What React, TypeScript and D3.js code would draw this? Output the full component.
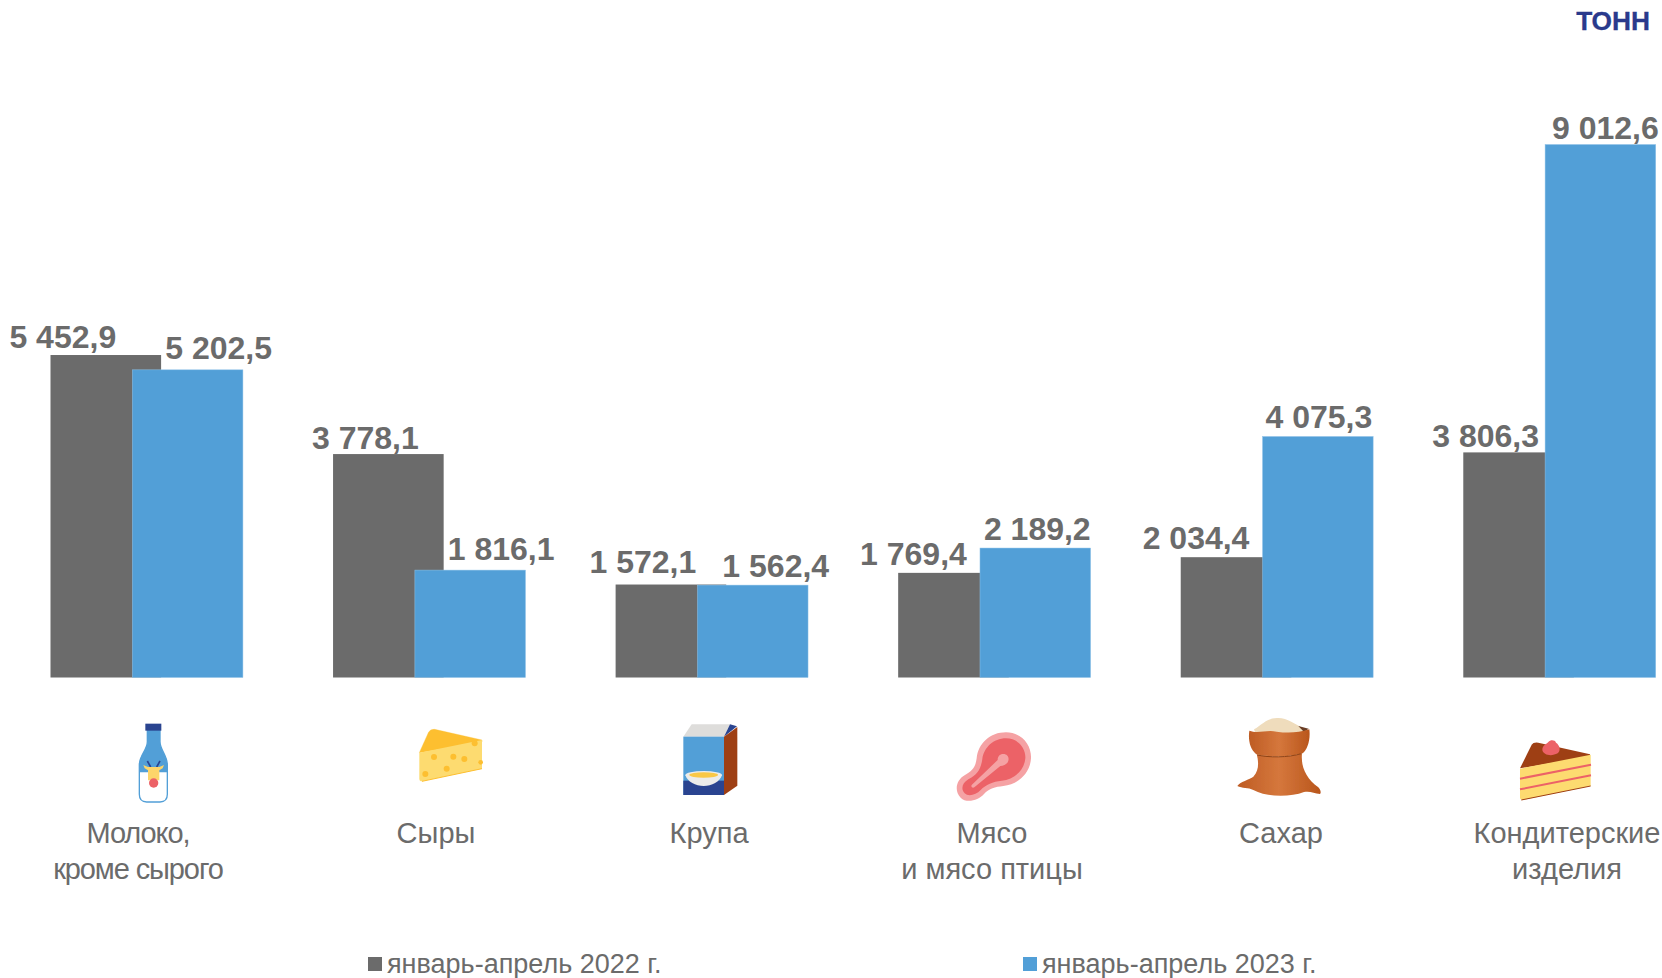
import React from "react";
import * as d3 from "d3";

const categories = ["Молоко, кроме сырого", "Сыры", "Крупа", "Мясо и мясо птицы", "Сахар", "Кондитерские изделия"];
const categoryLines = [["Молоко,", "кроме сырого"], ["Сыры"], ["Крупа"], ["Мясо", "и мясо птицы"], ["Сахар"], ["Кондитерские", "изделия"]];
const values2022 = [5452.9, 3778.1, 1572.1, 1769.4, 2034.4, 3806.3];
const values2023 = [5202.5, 1816.1, 1562.4, 2189.2, 4075.3, 9012.6];
const seriesNames = ["январь-апрель 2022 г.", "январь-апрель 2023 г."];
const unitLabel = "ТОНН";

const GREY = "#6B6B6B";
const BLUE = "#529FD7";
const FONT = "'Liberation Sans', Arial, sans-serif";

const x = d3.scaleBand<string>().domain(categories).range([50.5, 1655.7]).paddingInner(0.319);
const y = d3.scaleLinear().domain([0, 9012.6]).range([677.5, 144.5]);
const barW = 110.6;
const overlapOffset = x.bandwidth() - barW;

const fmt = (v: number) => {
  const [a, b] = v.toFixed(1).split(".");
  return a.replace(/\B(?=(\d{3})+$)/g, " ") + "," + b;
};

// label layout, relative to each bar's centre and top
const labelDx2022 = [-43, -23, -28, -40, -40, -33];
const labelDx2023 = [31, 31, 23, 2, 1, 5];
const labelDy2022 = [-7.5, -5, -12, -8, -8, -5];
const labelDy2023 = [-11, -10, -8, -8, -8, -6];
const catLabelX = [138, 436, 709, 992, 1281, 1567];
const catSpacing = [-1.1, 0, 0, 0, 0, 0];

function Icon({ ox, oy, children }: { ox: number; oy: number; children: React.ReactNode }) {
  return <g transform={`translate(${ox},${oy}) scale(${1 / 3})`}>{children}</g>;
}

const Bottle = () => (
  <Icon ox={130} oy={715}>
    <path d="M52 46 H90 V80 C90 105 112 120 112 150 V238 Q112 261 90 261 H50 Q28 261 28 238 V150 C28 120 52 105 52 80 Z" fill="#fff" stroke="#529FD7" strokeWidth="4" />
    <path d="M52 46 H90 V80 C90 105 112 120 112 150 V172 H28 V150 C28 120 52 105 52 80 Z" fill="#529FD7" />
    <rect x="46" y="26" width="48" height="21" fill="#2A4490" />
    <path d="M52 138 L62 156 M90 138 L80 156" stroke="#2A4490" strokeWidth="5" />
    <path d="M40 150 L54 156 H88 L102 150 L98 160 L88 166 L88 196 H54 L54 166 L44 160 Z" fill="#FDD56A" />
    <circle cx="71" cy="204" r="14" fill="#EC6267" />
  </Icon>
);

const Cheese = () => (
  <Icon ox={410} oy={720}>
    <path d="M28 98 L56 36 Q62 26 74 28 L216 60 L216 66 Z" fill="#FDBF30" stroke="#FDBF30" strokeWidth="1" />
    <path d="M28 98 L216 60 V146 L36 184 Q28 184 28 176 Z" fill="#FDDB70" />
    <path d="M36 184 L216 146" stroke="#FDBF30" strokeWidth="3" />
    {[[72, 111, 9], [130, 110, 9], [163, 117, 9], [110, 146, 9], [46, 162, 9], [194, 70, 9], [212, 127, 7]].map(([a, b, r], i) => (
      <circle key={i} cx={a} cy={b} r={r} fill="#FDBF30" />
    ))}
  </Icon>
);

const Box = () => (
  <Icon ox={675} oy={715}>
    <path d="M25 65 L50 28 H165 L147 65 Z" fill="#DEDDDB" />
    <path d="M165 28 L186 34 L147 65 Z" fill="#2A4490" />
    <path d="M147 65 L187 36 V212 L147 240 Z" fill="#9E3F14" />
    <rect x="25" y="65" width="122" height="175" fill="#529FD7" />
    <rect x="25" y="197" width="122" height="43" fill="#2A4490" />
    <path d="M31 180 H141 C135 200 110 213 86 213 C62 213 37 200 31 180 Z" fill="#ECECEA" />
    <ellipse cx="86" cy="180" rx="55" ry="12" fill="#ECECEA" />
    <ellipse cx="86" cy="180" rx="43" ry="8" fill="#F9C846" />
  </Icon>
);

const Meat = () => (
  <Icon ox={950} oy={725}>
    <path d="M168 22 C215 22 245 60 243 100 C240 145 205 178 160 183 C135 186 118 190 102 207 C85 226 50 236 32 218 C12 198 18 165 45 150 C65 138 76 130 80 100 C85 55 120 22 168 22 Z" fill="#F5A2A4" />
    <path d="M168 40 C205 40 228 70 226 100 C222 140 190 163 155 167 C128 170 108 178 92 195 C78 210 55 216 44 205 C32 192 36 175 55 163 C82 148 92 135 97 102 C102 68 130 40 168 40 Z" fill="#EC6267" />
    <path d="M143 105 C143 92 152 87 160 87 C172 87 178 97 175 107 C172 118 160 122 151 123 L73 187 C68 191 62 186 65 180 Z" fill="#F5A2A4" />
  </Icon>
);

const Sack = () => (
  <Icon ox={1230} oy={710}>
    <defs>
      <linearGradient id="sackG" x1="0" y1="0" x2="1" y2="0">
        <stop offset="0" stopColor="#BE5C24" />
        <stop offset="0.5" stopColor="#D5773C" />
        <stop offset="1" stopColor="#B9561C" />
      </linearGradient>
      <filter id="soft" x="-10%" y="-10%" width="120%" height="120%">
        <feGaussianBlur stdDeviation="1.6" />
      </filter>
    </defs>
    <g filter="url(#soft)">
      <path d="M72 58 C95 45 112 22 145 24 C172 24 195 42 225 58 L205 80 H80 Z" fill="#EFDCBC" />
      <path d="M205 48 L236 56 L222 66 Z" fill="#6A3E25" />
      <path d="M58 62 C85 72 110 58 140 65 C175 70 205 68 238 58 C242 90 232 120 218 130 C180 142 110 142 78 132 C60 118 54 90 58 62 Z" fill="url(#sackG)" />
      <path d="M80 132 C110 142 180 142 216 130 C212 170 228 205 265 232 C272 240 274 248 270 252 C252 250 240 242 222 246 C180 262 110 262 70 240 C55 232 36 236 22 228 C28 216 60 208 70 200 C88 180 86 155 80 132 Z" fill="url(#sackG)" />
      <path d="M82 135 C115 143 175 143 214 131" fill="none" stroke="#8F4316" strokeWidth="3" />
    </g>
  </Icon>
);

const Cake = () => (
  <Icon ox={1510} oy={730}>
    <path d="M30 115 L65 44 Q70 36 85 38 L240 73 V80 Z" fill="#9E3F14" />
    <path d="M30 116 L242 74 V168 L38 210 Q30 210 30 202 Z" fill="#FDDB70" />
    <path d="M34 210 L242 168" stroke="#9E3F14" strokeWidth="3" />
    <path d="M30 146 L243 104 M30 178 L243 136" stroke="#EC6267" strokeWidth="6" />
    <path d="M97 60 C97 45 110 42 115 36 C122 28 135 30 138 38 C150 46 153 62 143 70 C125 80 100 76 97 60 Z" fill="#EC6267" />
  </Icon>
);

const icons = [Bottle, Cheese, Box, Meat, Sack, Cake];

export default function App() {
  const dataLabel = { fontFamily: FONT, fontWeight: 700, fontSize: 32, fill: GREY, textAnchor: "middle" as const };
  return (
    <svg width={1662} height={978} style={{ position: "absolute", left: 0, top: 0, background: "#fff" }}>
      {categories.map((c, i) => (
        <rect key={c} x={x(c)!} y={y(values2022[i])} width={barW} height={y(0) - y(values2022[i])} fill={GREY} />
      ))}
      {categories.map((c, i) => (
        <rect key={c} x={x(c)! + overlapOffset} y={y(values2023[i])} width={barW} height={y(0) - y(values2023[i])} fill={BLUE} stroke="#8fc2e8" strokeWidth={0.5} />
      ))}
      {categories.map((c, i) => (
        <text key={c} {...dataLabel} x={x(c)! + barW / 2 + labelDx2022[i]} y={y(values2022[i]) + labelDy2022[i]}>{fmt(values2022[i])}</text>
      ))}
      {categories.map((c, i) => (
        <text key={c} {...dataLabel} x={x(c)! + overlapOffset + barW / 2 + labelDx2023[i]} y={y(values2023[i]) + labelDy2023[i]}>{fmt(values2023[i])}</text>
      ))}
      {icons.map((I, i) => <I key={i} />)}
      {categoryLines.map((lines, i) => (
        <text key={i} fontFamily={FONT} fontSize={29} fill={GREY} textAnchor="middle" letterSpacing={catSpacing[i]}>
          {lines.map((l, j) => (
            <tspan key={j} x={catLabelX[i]} y={843 + j * 36}>{l}</tspan>
          ))}
        </text>
      ))}
      <text x={1650} y={30} textAnchor="end" fontFamily={FONT} fontWeight={700} fontSize={26.3} fill="#2A3A8C" stroke="#2A3A8C" strokeWidth={0.3}>{unitLabel}</text>
      {seriesNames.map((s, i) => {
        const lx = [368, 1023][i];
        return (
          <g key={s}>
            <rect x={lx} y={957} width={14} height={14} fill={i === 0 ? GREY : BLUE} />
            <text x={lx + 19} y={973} fontFamily={FONT} fontSize={27} fill={GREY}>{s}</text>
          </g>
        );
      })}
    </svg>
  );
}
